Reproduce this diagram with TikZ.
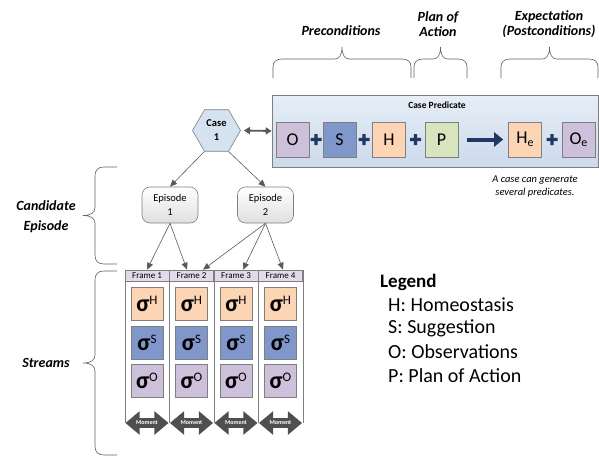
\documentclass[tikz,border=0pt]{standalone}
\usepackage{fontspec}
\setmainfont{Carlito}
\usetikzlibrary{shapes.geometric,shapes.arrows,arrows.meta,calc}

\definecolor{obsfill}{HTML}{CCC0DA}
\definecolor{sugfill}{HTML}{8097CB}
\definecolor{homfill}{HTML}{FCD5B5}
\definecolor{planfill}{HTML}{D7E4BD}
\definecolor{navy}{HTML}{1F3864}
\definecolor{boxline}{HTML}{7F7F7F}
\definecolor{linkgray}{HTML}{595959}
\definecolor{predtop}{HTML}{E6EEF7}
\definecolor{predbot}{HTML}{CCDAEB}
\definecolor{hexfill}{HTML}{D5E2F0}
\definecolor{framehead}{HTML}{E0DAEA}
\definecolor{momentgray}{HTML}{4F4F4F}

% horizontal brace opening downwards, from x=#1 to x=#2
\newcommand{\topbrace}[2]{%
  \draw[bracepath] (#1,78) -- (#1,67)
    .. controls (#1,62) and ({#1+3},59) .. ({#1+9},59)
    -- ({(#1+#2)/2-7},59)
    .. controls ({(#1+#2)/2-3},59) and ({(#1+#2)/2},55) .. ({(#1+#2)/2},47)
    .. controls ({(#1+#2)/2},55) and ({(#1+#2)/2+3},59) .. ({(#1+#2)/2+7},59)
    -- ({#2-9},59)
    .. controls ({#2-3},59) and (#2,62) .. (#2,67) -- (#2,78);}

% vertical brace opening to the right, from y=#1 to y=#2
\newcommand{\sidebrace}[2]{%
  \draw[bracepath] (117,#1) -- (104,#1)
    .. controls (98,#1) and (95,{#1+3}) .. (95,{#1+9})
    -- (95,{(#1+#2)/2-8})
    .. controls (95,{(#1+#2)/2-3}) and (91,{(#1+#2)/2}) .. (83,{(#1+#2)/2})
    .. controls (91,{(#1+#2)/2}) and (95,{(#1+#2)/2+3}) .. (95,{(#1+#2)/2+8})
    -- (95,{#2-9})
    .. controls (95,{#2-3}) and (98,#2) .. (104,#2) -- (117,#2);}

% sigma with a superscript letter
\newcommand{\sig}[1]{{\fontsize{24}{24}\selectfont\bfseries σ}\raisebox{7pt}{\fontsize{13}{13}\selectfont #1}}

\tikzset{
  term/.style={draw=boxline, line width=0.6pt, minimum width=33pt, minimum height=35pt,
    inner sep=0pt, font=\fontsize{18}{20}\selectfont},
  sigbox/.style={draw=boxline, line width=0.6pt, minimum width=32pt, minimum height=33pt,
    inner sep=0pt},
  plus/.style={minimum size=11pt, inner sep=0pt,
    path picture={\fill[navy]
      ([xshift=-1.6pt]path picture bounding box.north) rectangle ([xshift=1.6pt]path picture bounding box.south)
      ([yshift=1.6pt]path picture bounding box.west) rectangle ([yshift=-1.6pt]path picture bounding box.east);}},
  link/.style={draw=linkgray, line width=0.6pt, -{Triangle[length=7pt,width=6pt]}},
  sectionlabel/.style={font=\fontsize{14}{15}\selectfont\bfseries\itshape, align=center},
  bracepath/.style={draw=gray!75!black, line width=0.6pt},
  episode/.style={draw=boxline, line width=0.6pt, rounded corners=8pt, top color=white,
    bottom color=gray!25, minimum width=56pt, minimum height=36pt, align=center,
    font=\fontsize{10.5}{14}\selectfont},
  framehdr/.style={draw=boxline, line width=0.6pt, fill=framehead, minimum width=44pt,
    minimum height=11pt, inner sep=0pt, font=\fontsize{9}{9}\selectfont},
  moment/.style={double arrow, double arrow head extend=7pt, double arrow tip angle=80,
    fill=momentgray, text=white, font=\fontsize{6}{6}\selectfont\bfseries,
    minimum height=43pt, inner xsep=0pt, inner ysep=2.6pt},
  legenditem/.style={anchor=west, inner sep=0pt, font=\fontsize{20}{22}\selectfont},
}

\begin{document}
\begin{tikzpicture}[x=1pt, y=-1pt]
\useasboundingbox (0,0) rectangle (599,458);

% ---- section labels and braces ----
\node[sectionlabel] (precond) at (341,31) {Preconditions};
\node[sectionlabel] (planlbl) at (438,24) {Plan of\\Action};
\node[sectionlabel] (expectlbl) at (549,24) {Expectation\\(Postconditions)};
\topbrace{273}{411}
\topbrace{414}{467}
\topbrace{501}{598}

\node[sectionlabel, font=\fontsize{14}{20}\selectfont\bfseries\itshape] (candlbl) at (46,217) {Candidate\\Episode};
\node[sectionlabel] (streamlbl) at (46,363) {Streams};
\sidebrace{167}{264}
\sidebrace{271}{455}

% ---- case predicate ----
\node[draw=boxline, line width=0.6pt, top color=predtop, bottom color=predbot,
  minimum width=326pt, minimum height=72pt, inner sep=0pt] (pred) at (435,131) {};
\node[font=\fontsize{9.5}{10}\selectfont\bfseries] (predtitle) at (437,105) {Case Predicate};

\node[term, fill=obsfill] (tO) at (292.5,139.5) {O};
\node[term, fill=sugfill] (tS) at (339.5,139.5) {S};
\node[term, fill=homfill] (tH) at (389,139.5) {H};
\node[term, fill=planfill] (tP) at (441.5,139.5) {P};
\node[term, fill=homfill] (tHe) at (525,139.5) {H\raisebox{-2.5pt}{\fontsize{12}{12}\selectfont e}};
\node[term, fill=obsfill] (tOe) at (578.5,139.5) {O\raisebox{-2.5pt}{\fontsize{12}{12}\selectfont e}};

\node[plus] (p1) at (316,139.5) {};
\node[plus] (p2) at (364,139.5) {};
\node[plus] (p3) at (415.5,139.5) {};
\node[plus] (p4) at (552,139.5) {};
\draw[navy, line width=4pt, -{Triangle[length=9pt,width=14pt]}] ($(tP.east)+(9,0)$) -- ($(tHe.west)+(-5,0)$);

\node[font=\fontsize{10.5}{13}\selectfont\itshape, align=center] (note) at (535,186)
  {A case can generate\\several predicates.};

% ---- case and episodes ----
\node[regular polygon, regular polygon sides=6, minimum size=48pt, draw=boxline,
  line width=0.6pt, fill=hexfill, inner sep=0pt, align=center,
  font=\fontsize{10.5}{14}\selectfont\bfseries] (case) at (216.5,130.5) {Case\\1};
\draw[linkgray, line width=1.8pt, {Triangle[length=6pt,width=7pt]}-{Triangle[length=6pt,width=7pt]}]
  ([xshift=3pt]case.east) -- (pred.west);

\node[episode] (ep1) at (170,205) {Episode\\1};
\node[episode] (ep2) at (265.5,205) {Episode\\2};
\draw[link] (case.240) -- (ep1.north);
\draw[link] (case.300) -- (ep2.north);

% ---- frames ----
\foreach \x in {125,169,214,258,303}
  \draw[boxline, line width=0.6pt] (\x,270) -- (\x,423);
\node[framehdr] (frame1) at (147,275.5) {Frame 1};
\node[framehdr] (frame2) at (191.5,275.5) {Frame 2};
\node[framehdr] (frame3) at (236,275.5) {Frame 3};
\node[framehdr] (frame4) at (280.5,275.5) {Frame 4};

\draw[link] (ep1.south) -- (frame1.north);
\draw[link] (ep1.south) -- ($(frame2.north)+(-4.5,0)$);
\draw[link] (ep2.south) -- ($(frame2.north)+(11.5,0)$);
\draw[link] (ep2.south) -- ($(frame3.north)+(7,0)$);
\draw[link] (ep2.south) -- ($(frame4.north)+(2.5,0)$);

\foreach \c [count=\i] in {147,191.5,236,280.5} {
  \node[sigbox, fill=homfill] (sh\i) at (\c,303.5) {\sig{H}};
  \node[sigbox, fill=sugfill] (ss\i) at (\c,342.5) {\sig{S}};
  \node[sigbox, fill=obsfill] (so\i) at (\c,381) {\sig{O}};
  \node[moment] (mom\i) at (\c,423) {Moment};
}

% ---- legend ----
\node[legenditem, font=\fontsize{19}{22}\selectfont\bfseries] (legend) at (380,282) {Legend};
\node[legenditem] (lgH) at (388,305) {H: Homeostasis};
\node[legenditem] (lgS) at (388,328.5) {S: Suggestion};
\node[legenditem] (lgO) at (388,352) {O: Observations};
\node[legenditem] (lgP) at (388,375.5) {P: Plan of Action};
\end{tikzpicture}
\end{document}
